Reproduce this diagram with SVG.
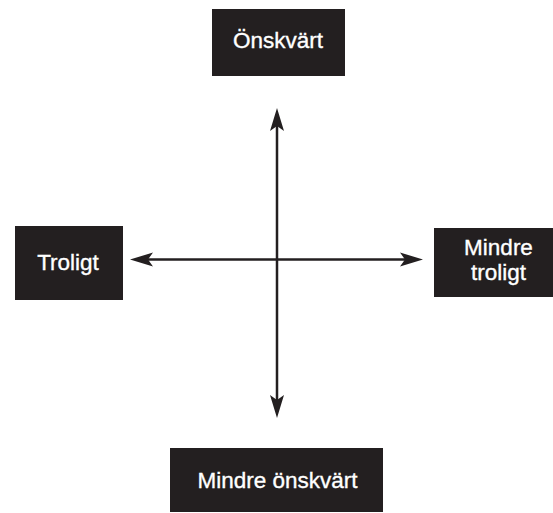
<svg xmlns="http://www.w3.org/2000/svg" width="553" height="513" viewBox="0 0 553 513">
<style>
.box{fill:#231f20}
.lbl{fill:#ffffff;stroke:#ffffff;stroke-width:0.35;font-family:"Liberation Sans",Arial,sans-serif;font-size:22.5px;text-anchor:middle}
.ln{stroke:#231f20;stroke-width:2.5;fill:none}
.ah{fill:#231f20}
</style>
<rect width="553" height="513" fill="#ffffff"/>
<g id="connectors">
<line class="ln" x1="277" y1="122" x2="277" y2="404"/>
<line class="ln" x1="144" y1="259.5" x2="409" y2="259.5"/>
<path class="ah" d="M277,108 L284,131 L277,126 L270,131 Z"/>
<path class="ah" d="M277,418 L284,395 L277,400 L270,395 Z"/>
<path class="ah" d="M130,259.5 L153,252.5 L148,259.5 L153,266.5 Z"/>
<path class="ah" d="M423,259.5 L400,252.5 L405,259.5 L400,266.5 Z"/>
</g>
<g id="onskvart">
<rect class="box" x="212" y="9" width="133" height="67"/>
<text class="lbl" x="278" y="48">Önskvärt</text>
</g>
<g id="troligt">
<rect class="box" x="15" y="226" width="108" height="74"/>
<text class="lbl" x="68" y="270">Troligt</text>
</g>
<g id="mindre-troligt">
<rect class="box" x="434" y="228" width="119" height="69"/>
<text class="lbl" x="498.5" y="255">Mindre</text>
<text class="lbl" x="498.5" y="280">troligt</text>
</g>
<g id="mindre-onskvart">
<rect class="box" x="170" y="448" width="213" height="64"/>
<text class="lbl" x="277.5" y="488">Mindre önskvärt</text>
</g>
</svg>
